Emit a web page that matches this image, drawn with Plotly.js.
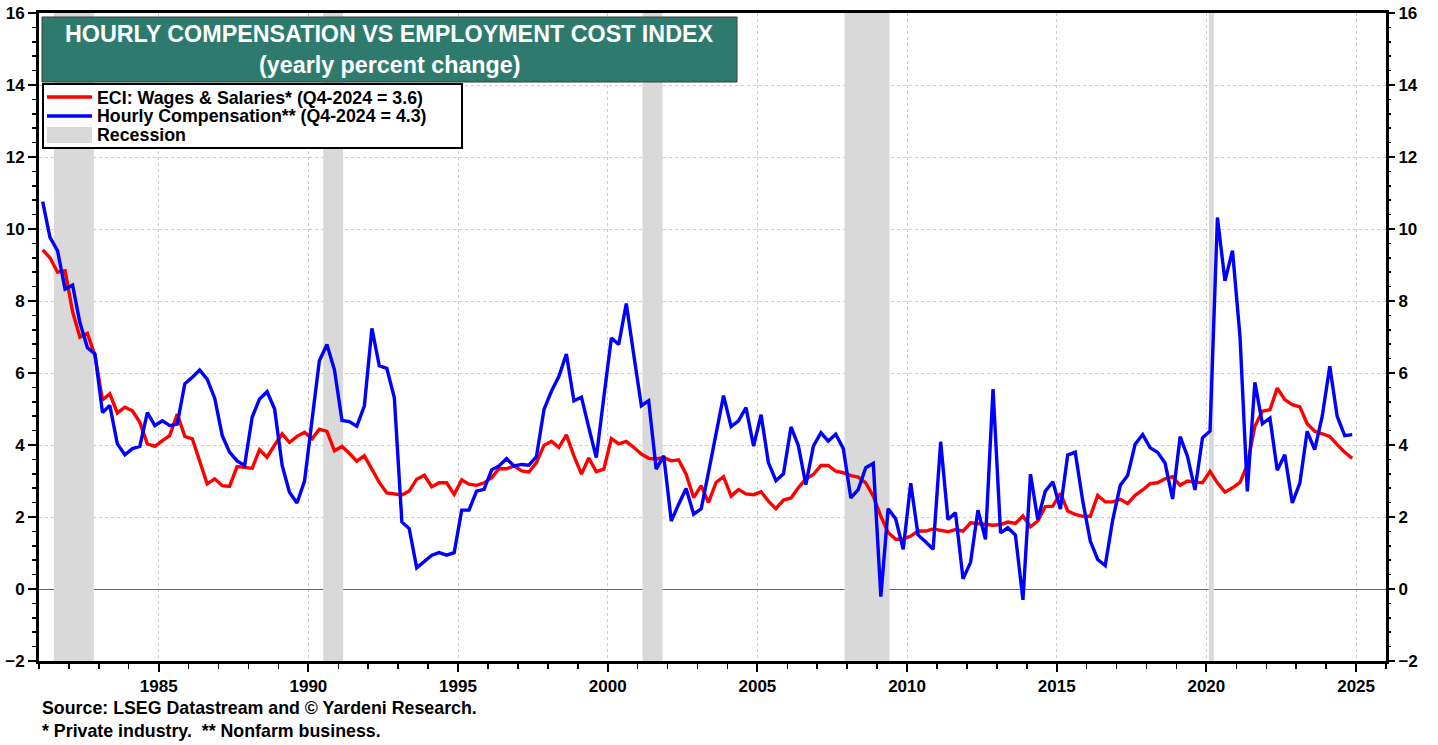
<!DOCTYPE html>
<html>
<head>
<meta charset="utf-8">
<script src="https://cdn.plot.ly/plotly-3.0.1.min.js"></script>
<style>
  html, body { margin: 0; padding: 0; background: #fff; }
  #chart { width: 1438px; height: 745px; }
</style>
</head>
<body>
<div id="chart"></div>
<script>
// ---------------- DATA ----------------
const firstYear = 1981;   // 1981-Q1
const lastYear = 2024;    // 2024-Q4
const quarterMidMonths = ['02', '05', '08', '11'];

// ECI: Wages & Salaries, private industry (yearly % change), quarterly 1981Q1..2024Q4
const eciWages = [
  9.42, 9.20, 8.80, 8.84, 7.70, 7.00, 7.10, 6.48, 5.25, 5.42,
  4.89, 5.05, 4.95, 4.63, 4.03, 3.96, 4.12, 4.26, 4.86, 4.24,
  4.17, 3.52, 2.92, 3.06, 2.87, 2.85, 3.40, 3.38, 3.35, 3.87,
  3.66, 4.00, 4.31, 4.07, 4.24, 4.35, 4.17, 4.44, 4.38, 3.84,
  3.96, 3.77, 3.55, 3.70, 3.33, 2.96, 2.67, 2.63, 2.61, 2.72,
  3.05, 3.16, 2.84, 2.95, 2.95, 2.63, 3.03, 2.91, 2.88, 2.95,
  3.09, 3.34, 3.34, 3.42, 3.28, 3.25, 3.51, 3.99, 4.10, 3.93,
  4.28, 3.70, 3.19, 3.64, 3.26, 3.33, 4.18, 4.03, 4.10, 3.93,
  3.75, 3.63, 3.61, 3.65, 3.56, 3.59, 3.19, 2.54, 2.87, 2.40,
  2.96, 3.12, 2.58, 2.76, 2.64, 2.62, 2.70, 2.44, 2.23, 2.47,
  2.53, 2.81, 3.06, 3.18, 3.43, 3.43, 3.27, 3.23, 3.15, 3.11,
  2.95, 2.58, 2.02, 1.57, 1.38, 1.38, 1.47, 1.61, 1.61, 1.67,
  1.63, 1.59, 1.65, 1.61, 1.84, 1.82, 1.79, 1.77, 1.79, 1.86,
  1.82, 2.03, 1.73, 1.89, 2.29, 2.30, 2.66, 2.17, 2.07, 2.02,
  2.02, 2.60, 2.42, 2.42, 2.49, 2.37, 2.60, 2.75, 2.93, 2.95,
  3.06, 3.12, 2.88, 3.00, 2.97, 2.95, 3.27, 2.95, 2.69, 2.81,
  2.96, 3.45, 4.52, 4.94, 4.98, 5.58, 5.26, 5.12, 5.06, 4.59,
  4.38, 4.31, 4.24, 4.01, 3.80, 3.63
];

// Hourly Compensation, nonfarm business (yearly % change), quarterly 1981Q1..2024Q4
const hourlyComp = [
  10.76, 9.77, 9.40, 8.33, 8.44, 7.40, 6.70, 6.53, 4.90, 5.10,
  4.03, 3.73, 3.90, 3.96, 4.90, 4.54, 4.67, 4.54, 4.58, 5.70,
  5.88, 6.08, 5.83, 5.30, 4.26, 3.80, 3.56, 3.43, 4.77, 5.28,
  5.48, 5.00, 3.43, 2.69, 2.39, 3.00, 4.70, 6.34, 6.79, 6.09,
  4.68, 4.65, 4.52, 5.09, 7.24, 6.20, 6.13, 5.31, 1.86, 1.68,
  0.59, 0.78, 0.94, 1.01, 0.94, 1.01, 2.19, 2.19, 2.72, 2.77,
  3.31, 3.42, 3.62, 3.42, 3.46, 3.44, 3.68, 4.99, 5.50, 5.90,
  6.53, 5.23, 5.33, 4.49, 3.65, 5.33, 6.97, 6.79, 7.93, 6.49,
  5.09, 5.23, 3.33, 3.70, 1.89, 2.35, 2.79, 2.08, 2.23, 3.24,
  4.30, 5.37, 4.51, 4.67, 5.04, 3.97, 4.84, 3.51, 3.01, 3.20,
  4.50, 3.99, 2.90, 3.97, 4.34, 4.11, 4.30, 3.90, 2.53, 2.76,
  3.37, 3.49, -0.21, 2.23, 1.95, 1.10, 2.94, 1.50, 1.31, 1.10,
  4.09, 1.93, 2.12, 0.28, 0.74, 2.19, 1.38, 5.55, 1.56, 1.70,
  1.50, -0.30, 3.19, 1.93, 2.72, 2.98, 2.22, 3.72, 3.80, 2.44,
  1.33, 0.82, 0.65, 1.93, 2.88, 3.15, 4.02, 4.29, 3.92, 3.80,
  3.50, 2.50, 4.23, 3.69, 2.75, 4.20, 4.39, 10.32, 8.56, 9.40,
  7.00, 2.71, 5.74, 4.59, 4.75, 3.30, 3.73, 2.39, 2.94, 4.38,
  3.87, 4.80, 6.19, 4.80, 4.26, 4.29
];

// NBER recessions
const recessionStart = ['1981-07-01', '1990-07-01', '2001-03-01', '2007-12-01', '2020-02-01'];
const recessionEnd   = ['1982-11-01', '1991-03-01', '2001-11-01', '2009-06-01', '2020-04-01'];

const seriesNames = [
  'ECI: Wages & Salaries* (Q4-2024 = 3.6)',
  'Hourly Compensation** (Q4-2024 = 4.3)',
  'Recession'
];
const titleLines = ['HOURLY COMPENSATION VS EMPLOYMENT COST INDEX', '(yearly percent change)'];
const footerLines = ['Source: LSEG Datastream and © Yardeni Research.', '* Private industry.\u00a0 ** Nonfarm business.'];

const yMin = -2, yMax = 16;

// ---------------- BUILD ----------------
const quarters = [];
for (let y = firstYear; y <= lastYear; y++) {
  for (let q = 0; q < 4; q++) quarters.push(y + '-' + quarterMidMonths[q] + '-15');
}

const recX = [], recY = [];
recessionStart.forEach((s, i) => {
  const e = recessionEnd[i];
  recX.push(s, s, e, e, s, null);
  recY.push(yMin, yMax, yMax, yMin, yMin, null);
});

const RED = '#ff0000', BLUE = '#0000ff', GRAY = '#d9d9d9', GREEN = '#2e7b6e';
const FONT = 'Liberation Sans, Arial, Helvetica, sans-serif';

const traces = [
  { x: recX, y: recY, type: 'scatter', mode: 'lines', fill: 'toself',
    fillcolor: GRAY, line: { width: 0, color: GRAY }, hoverinfo: 'skip', showlegend: false },
  { x: quarters, y: eciWages, type: 'scatter', mode: 'lines', name: seriesNames[0],
    line: { color: RED, width: 3.4 }, showlegend: false },
  { x: quarters, y: hourlyComp, type: 'scatter', mode: 'lines', name: seriesNames[1],
    line: { color: BLUE, width: 3.4 }, showlegend: false },
  { x: [null], y: [null], yaxis: 'y2', type: 'scatter', mode: 'lines', showlegend: false, hoverinfo: 'skip' }
];

// plot area in pixels
const L = 39, R = 1386, T = 13, B = 661;
const px = v => (v - L) / (R - L);
const py = v => (B - v) / (B - T);

const tickFont = { family: FONT, size: 17, color: '#000', weight: 'bold' };
const textFont = { family: FONT, size: 17.8, color: '#000', weight: 'bold' };
const titleFont = { family: FONT, size: 23.3, color: '#fff', weight: 'bold' };

const shapes = [
  // title box
  { type: 'rect', xref: 'paper', yref: 'paper', x0: px(42), x1: px(737), y0: py(82), y1: py(17),
    fillcolor: GREEN, line: { width: 1, color: '#3a3a3a' }, layer: 'above' },
  // legend box
  { type: 'rect', xref: 'paper', yref: 'paper', x0: px(43), x1: px(462), y0: py(148), y1: py(84),
    fillcolor: '#fff', line: { width: 2, color: '#000' }, layer: 'above' },
  { type: 'line', xref: 'paper', yref: 'paper', x0: px(47), x1: px(92), y0: py(97), y1: py(97),
    line: { width: 3.4, color: RED }, layer: 'above' },
  { type: 'line', xref: 'paper', yref: 'paper', x0: px(47), x1: px(92), y0: py(116), y1: py(116),
    line: { width: 3.4, color: BLUE }, layer: 'above' },
  { type: 'rect', xref: 'paper', yref: 'paper', x0: px(47), x1: px(92), y0: py(143), y1: py(127),
    fillcolor: GRAY, line: { width: 0 }, layer: 'above' }
];

const annotations = [
  { text: titleLines[0], xref: 'paper', yref: 'paper', x: px(389.5), y: py(34), xanchor: 'center', yanchor: 'middle',
    showarrow: false, font: titleFont },
  { text: titleLines[1], xref: 'paper', yref: 'paper', x: px(389.5), y: py(65), xanchor: 'center', yanchor: 'middle',
    showarrow: false, font: titleFont },
  { text: seriesNames[0], xref: 'paper', yref: 'paper', x: px(95), y: py(98), xanchor: 'left', yanchor: 'middle',
    showarrow: false, font: textFont },
  { text: seriesNames[1], xref: 'paper', yref: 'paper', x: px(95), y: py(116.5), xanchor: 'left', yanchor: 'middle',
    showarrow: false, font: textFont },
  { text: seriesNames[2], xref: 'paper', yref: 'paper', x: px(95), y: py(135), xanchor: 'left', yanchor: 'middle',
    showarrow: false, font: textFont },
  { text: footerLines[0], xref: 'paper', yref: 'paper', x: px(40), y: py(708), xanchor: 'left', yanchor: 'middle',
    showarrow: false, font: textFont },
  { text: footerLines[1], xref: 'paper', yref: 'paper', x: px(40), y: py(731), xanchor: 'left', yanchor: 'middle',
    showarrow: false, font: textFont }
];

const yCommon = {
  range: [yMin, yMax], tick0: 0, dtick: 2, ticks: 'outside', ticklen: 8, tickwidth: 2, tickcolor: '#000',
  minor: { dtick: 0.4, ticks: 'outside', ticklen: 4, tickwidth: 1.5, tickcolor: '#000', showgrid: false },
  tickfont: tickFont, fixedrange: true
};

const layout = {
  width: 1438, height: 745,
  margin: { l: L, r: 1438 - R, t: T, b: 745 - B, pad: 0 },
  paper_bgcolor: '#fff', plot_bgcolor: '#fff',
  showlegend: false,
  font: { family: FONT, color: '#000' },
  xaxis: {
    type: 'date', range: ['1981-01-01', '2026-01-01'],
    tick0: '1985-01-01', dtick: 'M60', tickformat: '%Y',
    ticks: 'outside', ticklen: 8, tickwidth: 2, tickcolor: '#000',
    minor: { dtick: 'M12', tick0: '1981-01-01', ticks: 'outside', ticklen: 5, tickwidth: 1.5, tickcolor: '#000', showgrid: false },
    showgrid: true, gridcolor: '#cccccc', griddash: 'dot', gridwidth: 1,
    showline: true, linecolor: '#000', linewidth: 3, mirror: true,
    tickfont: tickFont, zeroline: false, fixedrange: true
  },
  yaxis: Object.assign({}, yCommon, {
    side: 'left', showgrid: true, gridcolor: '#cccccc', griddash: 'dot', gridwidth: 1,
    zeroline: true, zerolinecolor: '#666', zerolinewidth: 1,
    showline: true, linecolor: '#000', linewidth: 3, mirror: true
  }),
  yaxis2: Object.assign({}, yCommon, {
    overlaying: 'y', side: 'right', showgrid: false, zeroline: false, showline: false
  }),
  shapes: shapes,
  annotations: annotations
};

Plotly.newPlot('chart', traces, layout, { staticPlot: true, displayModeBar: false });
</script>
</body>
</html>
